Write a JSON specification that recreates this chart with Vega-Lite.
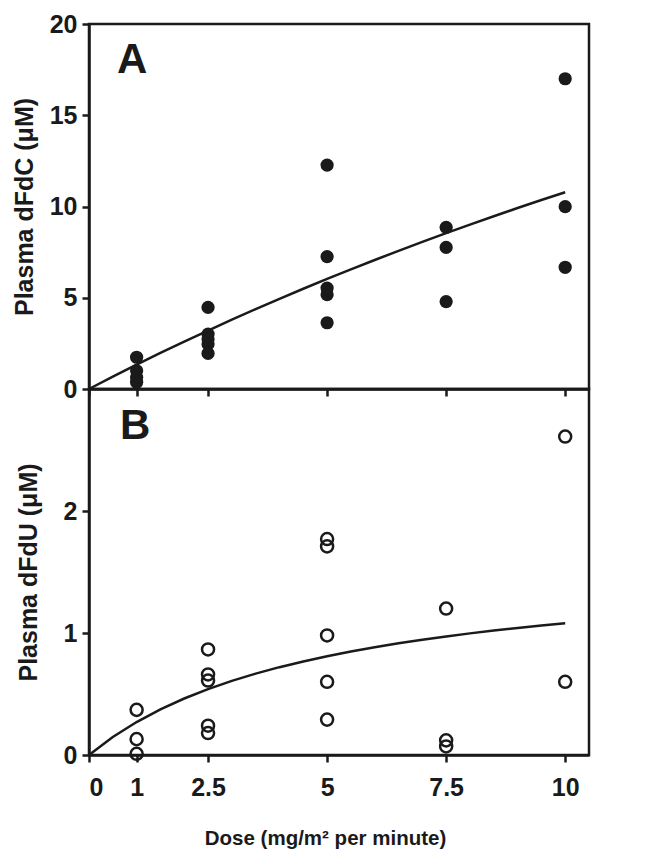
{
  "$schema": "https://vega.github.io/schema/vega-lite/v6.json",
  "padding": {"left": 10, "top": 10, "right": 10, "bottom": 6},
  "bounds": "flush",
  "spacing": 0,
  "config": {
    "font": "Liberation Sans",
    "view": {"stroke": "#1a1a1a", "strokeWidth": 2.5},
    "axis": {
      "grid": false,
      "domainColor": "#1a1a1a",
      "domainWidth": 2.5,
      "tickColor": "#1a1a1a",
      "tickWidth": 2.5,
      "tickSize": 7,
      "labelFont": "Liberation Sans",
      "labelFontWeight": "bold",
      "labelFontSize": 25,
      "labelColor": "#1a1a1a",
      "labelPadding": 5,
      "titleFont": "Liberation Sans",
      "titleFontWeight": "bold",
      "titleFontSize": 25,
      "titleColor": "#1a1a1a"
    }
  },
  "datasets": {
    "dfdc": [
      {"dose": 1, "conc": 1.74}, {"dose": 1, "conc": 1.0}, {"dose": 1, "conc": 0.64}, {"dose": 1, "conc": 0.37},
      {"dose": 2.5, "conc": 4.47}, {"dose": 2.5, "conc": 3.01}, {"dose": 2.5, "conc": 2.74}, {"dose": 2.5, "conc": 2.47}, {"dose": 2.5, "conc": 1.95},
      {"dose": 5, "conc": 12.27}, {"dose": 5, "conc": 7.25}, {"dose": 5, "conc": 5.53}, {"dose": 5, "conc": 5.17}, {"dose": 5, "conc": 3.63},
      {"dose": 7.5, "conc": 8.86}, {"dose": 7.5, "conc": 7.76}, {"dose": 7.5, "conc": 4.79},
      {"dose": 10, "conc": 17.0}, {"dose": 10, "conc": 9.99}, {"dose": 10, "conc": 6.67}
    ],
    "fitC": [
      {"dose": 0, "conc": 0}, {"dose": 0.5, "conc": 0.675}, {"dose": 1, "conc": 1.332}, {"dose": 1.5, "conc": 1.973},
      {"dose": 2, "conc": 2.597}, {"dose": 2.5, "conc": 3.205}, {"dose": 3, "conc": 3.799}, {"dose": 3.5, "conc": 4.377},
      {"dose": 4, "conc": 4.942}, {"dose": 4.5, "conc": 5.493}, {"dose": 5, "conc": 6.031}, {"dose": 5.5, "conc": 6.556},
      {"dose": 6, "conc": 7.069}, {"dose": 6.5, "conc": 7.571}, {"dose": 7, "conc": 8.061}, {"dose": 7.5, "conc": 8.54},
      {"dose": 8, "conc": 9.009}, {"dose": 8.5, "conc": 9.467}, {"dose": 9, "conc": 9.916}, {"dose": 9.5, "conc": 10.354},
      {"dose": 10, "conc": 10.784}
    ],
    "dfdu": [
      {"dose": 1, "conc": 0.37}, {"dose": 1, "conc": 0.13}, {"dose": 1, "conc": 0.01},
      {"dose": 2.5, "conc": 0.865}, {"dose": 2.5, "conc": 0.66}, {"dose": 2.5, "conc": 0.61}, {"dose": 2.5, "conc": 0.24}, {"dose": 2.5, "conc": 0.18},
      {"dose": 5, "conc": 1.77}, {"dose": 5, "conc": 1.71}, {"dose": 5, "conc": 0.98}, {"dose": 5, "conc": 0.6}, {"dose": 5, "conc": 0.29},
      {"dose": 7.5, "conc": 1.2}, {"dose": 7.5, "conc": 0.12}, {"dose": 7.5, "conc": 0.07},
      {"dose": 10, "conc": 2.61}, {"dose": 10, "conc": 0.6}
    ],
    "fitU": [
      {"dose": 0, "conc": 0}, {"dose": 0.5, "conc": 0.147}, {"dose": 1, "conc": 0.27}, {"dose": 1.5, "conc": 0.374},
      {"dose": 2, "conc": 0.463}, {"dose": 2.5, "conc": 0.54}, {"dose": 3, "conc": 0.6075}, {"dose": 3.5, "conc": 0.667},
      {"dose": 4, "conc": 0.72}, {"dose": 4.5, "conc": 0.767}, {"dose": 5, "conc": 0.81}, {"dose": 5.5, "conc": 0.849},
      {"dose": 6, "conc": 0.884}, {"dose": 6.5, "conc": 0.916}, {"dose": 7, "conc": 0.945}, {"dose": 7.5, "conc": 0.972},
      {"dose": 8, "conc": 0.997}, {"dose": 8.5, "conc": 1.02}, {"dose": 9, "conc": 1.041}, {"dose": 9.5, "conc": 1.061},
      {"dose": 10, "conc": 1.08}
    ],
    "labA": [{"dose": 0.59, "conc": 17.3, "label": "A"}],
    "labB": [{"dose": 0.65, "conc": 2.59, "label": "B"}]
  },
  "vconcat": [
    {
      "width": 500,
      "height": 365,
      "encoding": {
        "x": {
          "field": "dose", "type": "quantitative",
          "scale": {"domain": [0, 10.5], "nice": false},
          "axis": {"values": [0, 1, 2.5, 5, 7.5, 10], "labels": false, "title": null}
        },
        "y": {
          "field": "conc", "type": "quantitative",
          "scale": {"domain": [0, 20], "nice": false},
          "axis": {"values": [0, 5, 10, 15, 20], "title": "Plasma dFdC (μM)", "titlePadding": 12}
        }
      },
      "layer": [
        {"data": {"name": "fitC"}, "mark": {"type": "line", "color": "#1a1a1a", "strokeWidth": 2.5}},
        {"data": {"name": "dfdc"}, "mark": {"type": "circle", "color": "#1a1a1a", "opacity": 1, "size": 175}},
        {"data": {"name": "labA"}, "mark": {"type": "text", "align": "left", "baseline": "alphabetic", "fontSize": 42, "fontWeight": "bold", "color": "#1a1a1a"}, "encoding": {"text": {"field": "label"}}}
      ]
    },
    {
      "width": 500,
      "height": 366,
      "encoding": {
        "x": {
          "field": "dose", "type": "quantitative",
          "scale": {"domain": [0, 10.5], "nice": false},
          "axis": {"values": [0, 1, 2.5, 5, 7.5, 10], "labelExpr": "'' + datum.value", "labelPadding": 13, "title": "Dose (mg/m² per minute)", "titlePadding": 28, "titleFontSize": 20.5, "titleX": 236}
        },
        "y": {
          "field": "conc", "type": "quantitative",
          "scale": {"domain": [0, 3], "nice": false},
          "axis": {"values": [0, 1, 2], "title": "Plasma dFdU (μM)", "titlePadding": 22}
        }
      },
      "layer": [
        {"data": {"name": "fitU"}, "mark": {"type": "line", "color": "#1a1a1a", "strokeWidth": 2.5}},
        {"data": {"name": "dfdu"}, "mark": {"type": "point", "shape": "circle", "filled": false, "color": "#1a1a1a", "opacity": 1, "strokeWidth": 2.5, "size": 145}},
        {"data": {"name": "labB"}, "mark": {"type": "text", "align": "left", "baseline": "alphabetic", "fontSize": 42, "fontWeight": "bold", "color": "#1a1a1a"}, "encoding": {"text": {"field": "label"}}}
      ]
    }
  ]
}
